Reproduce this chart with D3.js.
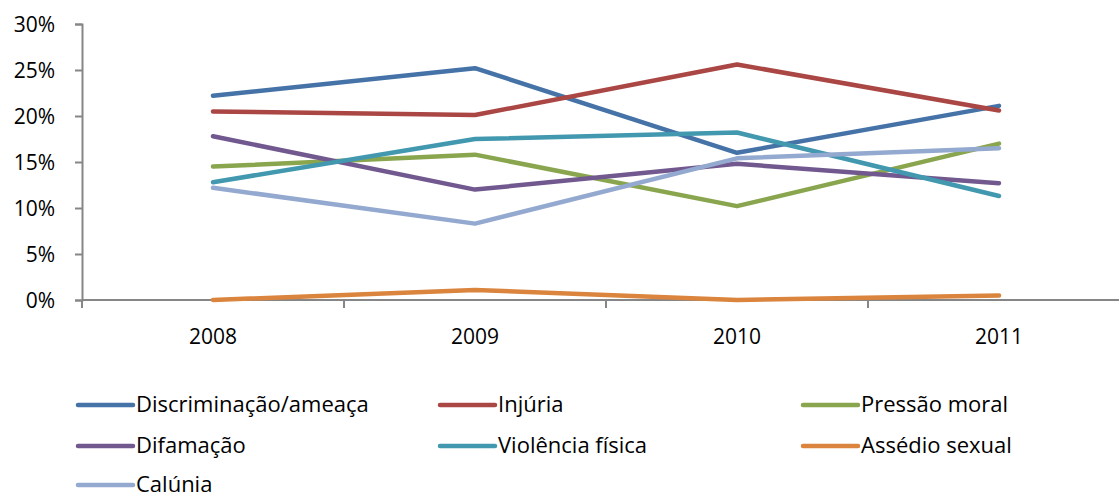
<!DOCTYPE html>
<html>
<head>
<meta charset="utf-8">
<script src="https://cdn.jsdelivr.net/npm/d3@7"></script>
<style>
    body { margin: 0; background: #fff; }
    svg text { font-family: "Open Sans", Lato, sans-serif; fill: #000; }
</style>
</head>
<body>
<div id="chart"></div>
<script>
// data
const years = ['2008', '2009', '2010', '2011'];
const seriesNames = [
    'Discriminação/ameaça', 'Injúria', 'Pressão moral',
    'Difamação', 'Violência física', 'Assédio sexual', 'Calúnia'
];
const discriminacao = [0.222, 0.252, 0.160, 0.211];
const injuria = [0.205, 0.201, 0.256, 0.206];
const pressaoMoral = [0.145, 0.158, 0.102, 0.170];
const difamacao = [0.178, 0.120, 0.148, 0.127];
const violencia = [0.128, 0.175, 0.182, 0.113];
const assedio = [0.000, 0.011, 0.000, 0.005];
const calunia = [0.122, 0.083, 0.154, 0.165];
const yTicks = [0, 0.05, 0.10, 0.15, 0.20, 0.25, 0.30];

const colors = ['#4572A7', '#AA4643', '#89A54E', '#71588F', '#4198AF', '#DB843D', '#93A9CF'];
const seriesValues = [discriminacao, injuria, pressaoMoral, difamacao, violencia, assedio, calunia];

const width = 1119;
const height = 497;
const margin = {top: 24, left: 82, bottom: 197};
const plotRight = 1130; // category axis runs past the right edge
const plotBottom = height - margin.bottom;
const fontSize = '21px';
const legendFontSize = '22px';

const svg = d3.select('#chart')
  .append('svg')
    .attr('width', width)
    .attr('height', height);

const xScale = d3.scaleBand()
    .domain(years)
    .range([margin.left, plotRight]);

const yScale = d3.scaleLinear()
    .domain([0, 0.30])
    .range([plotBottom, margin.top]);

// y axis
const yAxis = d3.axisLeft(yScale)
    .tickValues(yTicks)
    .tickFormat(d3.format('.0%'))
    .tickSize(7)
    .tickPadding(20);

const yg = svg.append('g')
    .attr('transform', `translate(${margin.left},0)`)
    .call(yAxis);
yg.select('.domain').attr('stroke', '#868686').attr('stroke-width', 2);
yg.selectAll('.tick line').attr('stroke', '#868686').attr('stroke-width', 2);
yg.selectAll('.tick text').style('font-size', fontSize).attr('dy', '0.35em');

// x axis, ticks between categories
const xg = svg.append('g')
    .attr('transform', `translate(0,${plotBottom})`);
xg.append('line')
    .attr('x1', margin.left)
    .attr('x2', plotRight)
    .attr('stroke', '#868686')
    .attr('stroke-width', 2);
xg.selectAll('.xtick')
    .data(years.map(y => xScale(y)).concat([plotRight]))
  .enter()
  .append('line')
    .attr('x1', d => d)
    .attr('x2', d => d)
    .attr('y1', 0)
    .attr('y2', 8)
    .attr('stroke', '#868686')
    .attr('stroke-width', 2);
xg.selectAll('.xlabel')
    .data(years)
  .enter()
  .append('text')
    .attr('x', d => xScale(d) + xScale.bandwidth() / 2)
    .attr('y', 44)
    .attr('text-anchor', 'middle')
    .style('font-size', fontSize)
    .text(d => d);

// lines
const line = d3.line()
    .x((d, i) => xScale(years[i]) + xScale.bandwidth() / 2)
    .y(d => yScale(d));

svg.append('g')
    .selectAll('path')
    .data(seriesValues)
  .enter()
  .append('path')
    .attr('d', d => line(d))
    .attr('fill', 'none')
    .attr('stroke', (d, i) => colors[i])
    .attr('stroke-width', 4.5)
    .attr('stroke-linecap', 'round')
    .attr('stroke-linejoin', 'round');

// legend
const legendCols = [78, 440, 803];
const legendRows = [405, 446, 485];

const items = svg.append('g')
    .selectAll('g')
    .data(seriesNames)
  .enter()
  .append('g')
    .attr('transform', (d, i) => `translate(${legendCols[i % 3]},${legendRows[Math.floor(i / 3)]})`);

items.append('line')
    .attr('x1', 0)
    .attr('x2', 55)
    .attr('stroke', (d, i) => colors[i])
    .attr('stroke-width', 4.5)
    .attr('stroke-linecap', 'round');

items.append('text')
    .attr('x', 58)
    .attr('dy', '0.33em')
    .style('font-size', legendFontSize)
    .text(d => d);
</script>
</body>
</html>
